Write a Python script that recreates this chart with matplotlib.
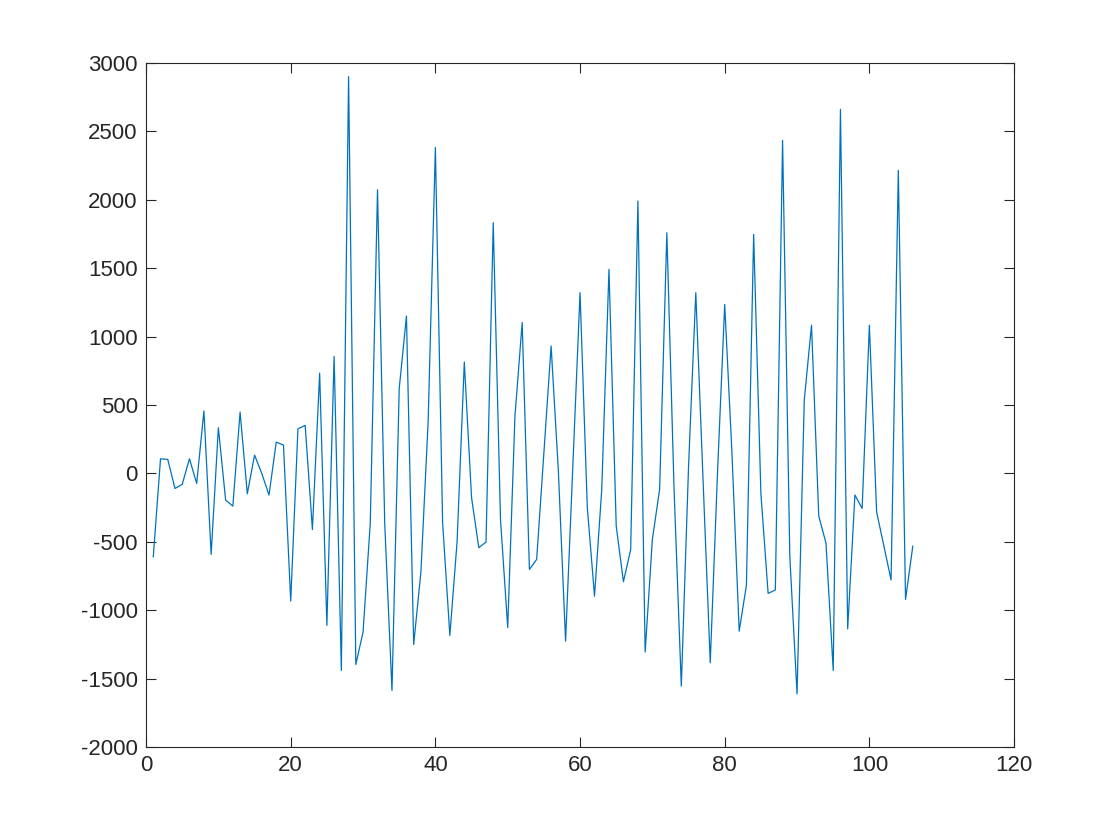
import matplotlib
matplotlib.use("Agg")
import matplotlib.pyplot as plt
import numpy as np

x_index = list(range(1, 107))
values = [
    -609, 107, 102, -110, -80, 107, -73, 456, -592, 334,
    -195, -239, 448, -149, 134, 0, -158, 229, 207, -933,
    326, 351, -410, 733, -1111, 855, -1440, 2900, -1397, -1160,
    -362, 2073, -370, -1587, 620, 1150, -1250, -720, 380, 2383,
    -360, -1184, -500, 814, -177, -543, -502, 1833, -336, -1127,
    419, 1103, -702, -629, 150, 931, 20, -1226, 50, 1321,
    -245, -897, -117, 1491, -385, -792, -556, 1991, -1306, -482,
    -117, 1759, -120, -1555, 50, 1321, -40, -1384, 0, 1235,
    150, -1153, -818, 1747, -146, -877, -852, 2434, -607, -1612,
    537, 1083, -312, -509, -1440, 2661, -1136, -158, -256, 1083,
    -282, -530, -779, 2215, -921, -532,
]
xticks = [0, 20, 40, 60, 80, 100, 120]
yticks = [-2000, -1500, -1000, -500, 0, 500, 1000, 1500, 2000, 2500, 3000]

plt.rcParams['font.family'] = ['Liberation Sans', 'DejaVu Sans']
ax_color = '#262626'

fig = plt.figure(figsize=(11.2, 8.4), dpi=100)
ax = fig.add_axes([0.1304, 0.1107, 0.775, 0.8143])
ax.plot(x_index, values, color='#0072BD', linewidth=0.9)

ax.set_xlim(0, 120)
ax.set_ylim(-2000, 3000)
ax.set_xticks(xticks)
ax.set_yticks(yticks)
ax.set_xticklabels([str(t) for t in xticks])
ax.set_yticklabels([str(t) for t in yticks])
ax.tick_params(direction='in', length=7, width=0.8, colors=ax_color,
               labelsize=16, top=True, right=True, pad=6)
ax.tick_params(axis='both', labelcolor=ax_color)
for s in ax.spines.values():
    s.set_color(ax_color)
    s.set_linewidth(0.8)

fig.savefig('out.png', dpi=100, facecolor='white')
